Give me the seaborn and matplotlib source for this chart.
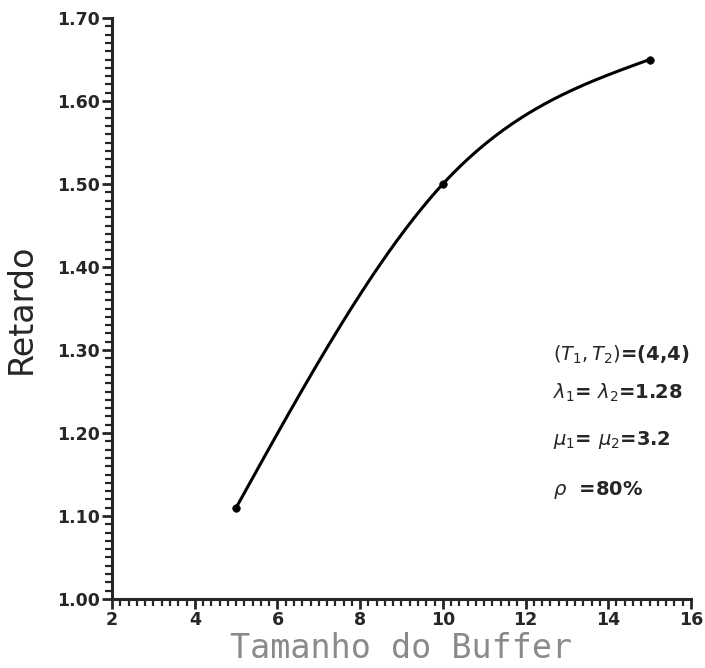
import numpy as np
import pandas as pd
import matplotlib
matplotlib.use("Agg")
import matplotlib.pyplot as plt
from matplotlib.ticker import MultipleLocator, FormatStrFormatter
import seaborn as sns

# Mean delay versus buffer size
buffer_size = [5, 10, 15]
delay = [1.11, 1.50, 1.65]

x_ticks = [2, 4, 6, 8, 10, 12, 14, 16]
y_ticks = [1.00, 1.10, 1.20, 1.30, 1.40, 1.50, 1.60, 1.70]

params = [
    r"$(T_1,T_2)$=(4,4)",
    r"$\lambda_1$= $\lambda_2$=1.28",
    r"$\mu_1$= $\mu_2$=3.2",
    r"$\rho$  =80%",
]


def natural_spline(x, y, n=100):
    """Natural cubic spline through the given points, sampled for drawing."""
    x = np.asarray(x, float)
    y = np.asarray(y, float)
    k = len(x)
    h = np.diff(x)
    A = np.zeros((k, k))
    r = np.zeros(k)
    A[0, 0] = A[-1, -1] = 1.0
    for i in range(1, k - 1):
        A[i, i - 1] = h[i - 1]
        A[i, i] = 2 * (h[i - 1] + h[i])
        A[i, i + 1] = h[i]
        r[i] = 6 * ((y[i + 1] - y[i]) / h[i] - (y[i] - y[i - 1]) / h[i - 1])
    M = np.linalg.solve(A, r)
    xs, ys = [], []
    for i in range(k - 1):
        t = np.linspace(x[i], x[i + 1], n, endpoint=(i == k - 2))
        a = x[i + 1] - t
        b = t - x[i]
        s = (M[i] * a**3 + M[i + 1] * b**3) / (6 * h[i]) \
            + (y[i] / h[i] - M[i] * h[i] / 6) * a \
            + (y[i + 1] / h[i] - M[i + 1] * h[i] / 6) * b
        xs.append(t)
        ys.append(s)
    return np.concatenate(xs), np.concatenate(ys)


sns.set_style("ticks")
plt.rcParams["font.family"] = ["DejaVu Sans"]

fig = plt.figure(figsize=(7.05, 6.68), dpi=100)
ax = fig.add_axes([0.159, 0.1033, 0.821, 0.8697])

pts = pd.DataFrame({"buffer": buffer_size, "delay": delay})
cx, cy = natural_spline(buffer_size, delay)
curve = pd.DataFrame({"buffer": cx, "delay": cy})

sns.lineplot(data=curve, x="buffer", y="delay", ax=ax, color="black",
             linewidth=2.2, estimator=None, sort=True)
sns.scatterplot(data=pts, x="buffer", y="delay", ax=ax, color="black",
                s=30, edgecolor="black", zorder=3)

ax.set_xlim(x_ticks[0], x_ticks[-1])
ax.set_ylim(y_ticks[0], y_ticks[-1])
ax.set_xticks(x_ticks)
ax.set_yticks(y_ticks)
ax.yaxis.set_major_formatter(FormatStrFormatter("%.2f"))
ax.xaxis.set_minor_locator(MultipleLocator(0.2))
ax.yaxis.set_minor_locator(MultipleLocator(0.01))

for side in ("top", "right"):
    ax.spines[side].set_visible(False)
for side in ("left", "bottom"):
    ax.spines[side].set_linewidth(2.2)

ax.tick_params(which="major", direction="out", length=7, width=2,
               labelsize=12.5, pad=2)
ax.tick_params(which="minor", direction="out", length=5, width=1.6)
for lbl in ax.get_xticklabels() + ax.get_yticklabels():
    lbl.set_fontweight("bold")

ax.set_ylabel("Retardo", fontsize=24, labelpad=14)
ax.set_xlabel("Tamanho do Buffer", fontsize=24, color="#8a8a8a",
              family="DejaVu Sans Mono", labelpad=2)

ys = [355, 393, 440, 490]
for txt, y in zip(params, ys):
    fig.text(553 / 705, 1 - y / 668, txt, fontsize=14, ha="left",
             va="center", fontweight="bold")

fig.savefig("out.png", dpi=100, facecolor="white")
